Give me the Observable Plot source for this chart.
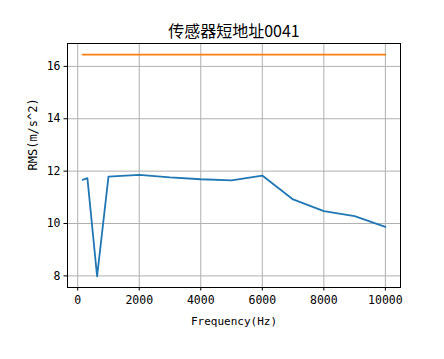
<!DOCTYPE html>
<html>
<head>
<meta charset="utf-8">
<script src="https://cdn.jsdelivr.net/npm/d3@7"></script>
<script src="https://cdn.jsdelivr.net/npm/@observablehq/plot@0.6"></script>
<style>
  html, body { margin: 0; padding: 0; background: #fff; }
</style>
</head>
<body>
<div id="chart"></div>
<script>
const title = "传感器短地址0041";
const xLabel = "Frequency(Hz)";
const yLabel = "RMS(m/s^2)";
const freqs = [160, 315, 630, 1000, 2000, 3000, 4000, 5000, 6000, 7000, 8000, 9000, 10000];
const rms = [11.67, 11.73, 7.98, 11.79, 11.86, 11.76, 11.69, 11.65, 11.83, 10.92, 10.47, 10.28, 9.87];
const refLevel = [16.45, 16.45, 16.45, 16.45, 16.45, 16.45, 16.45, 16.45, 16.45, 16.45, 16.45, 16.45, 16.45];
const xTicks = [0, 2000, 4000, 6000, 8000, 10000];
const yTicks = [8, 10, 12, 14, 16];

const blue = freqs.map((f, i) => ({f, v: rms[i]}));
const orange = freqs.map((f, i) => ({f, v: refLevel[i]}));

const allV = rms.concat(refLevel);
const xmin = d3.min(freqs), xmax = d3.max(freqs);
const ymin = d3.min(allV), ymax = d3.max(allV);
const xm = (xmax - xmin) * 0.05, ym = (ymax - ymin) * 0.05;

const monoFont = "'DejaVu Sans Mono', 'Liberation Mono', monospace";
const cjkFont = "'Noto Sans CJK SC', 'DejaVu Sans', sans-serif";

const chart = Plot.plot({
  width: 444,
  height: 359,
  marginLeft: 67,
  marginRight: 44,
  marginTop: 43,
  marginBottom: 72,
  style: {fontFamily: monoFont, fontSize: "11.5px", color: "#000", background: "#fff"},
  x: {domain: [xmin - xm, xmax + xm]},
  y: {domain: [ymin - ym, ymax + ym]},
  marks: [
    Plot.gridX(xTicks, {stroke: "#b0b0b0", strokeOpacity: 1, strokeWidth: 1}),
    Plot.gridY(yTicks, {stroke: "#b0b0b0", strokeOpacity: 1, strokeWidth: 1}),
    Plot.line(orange, {x: "f", y: "v", stroke: "#ff7f0e", strokeWidth: 1.8}),
    Plot.line(blue, {x: "f", y: "v", stroke: "#1f77b4", strokeWidth: 1.8}),
    Plot.frame({stroke: "#000", strokeWidth: 1}),
    Plot.axisX(xTicks, {tickSize: 3.5, tickPadding: 5, fontSize: 11.5, tickFormat: d => String(d), label: null}),
    Plot.axisY(yTicks, {tickSize: 3.5, tickPadding: 3.5, fontSize: 11.5, tickFormat: d => String(d), label: null}),
    Plot.text([xLabel], {text: d => d, frameAnchor: "bottom", dy: 37, fontSize: 11, fontFamily: monoFont, fill: "#000"}),
    Plot.text([yLabel], {text: d => d, frameAnchor: "left", rotate: -90, dx: -34, dy: 5, fontSize: 12, fontFamily: monoFont, fill: "#000"}),
    Plot.text([title], {text: d => d, frameAnchor: "top", dy: -18, fontSize: 16, fontFamily: cjkFont, fill: "#000"})
  ]
});
document.getElementById("chart").appendChild(chart);
</script>
</body>
</html>
